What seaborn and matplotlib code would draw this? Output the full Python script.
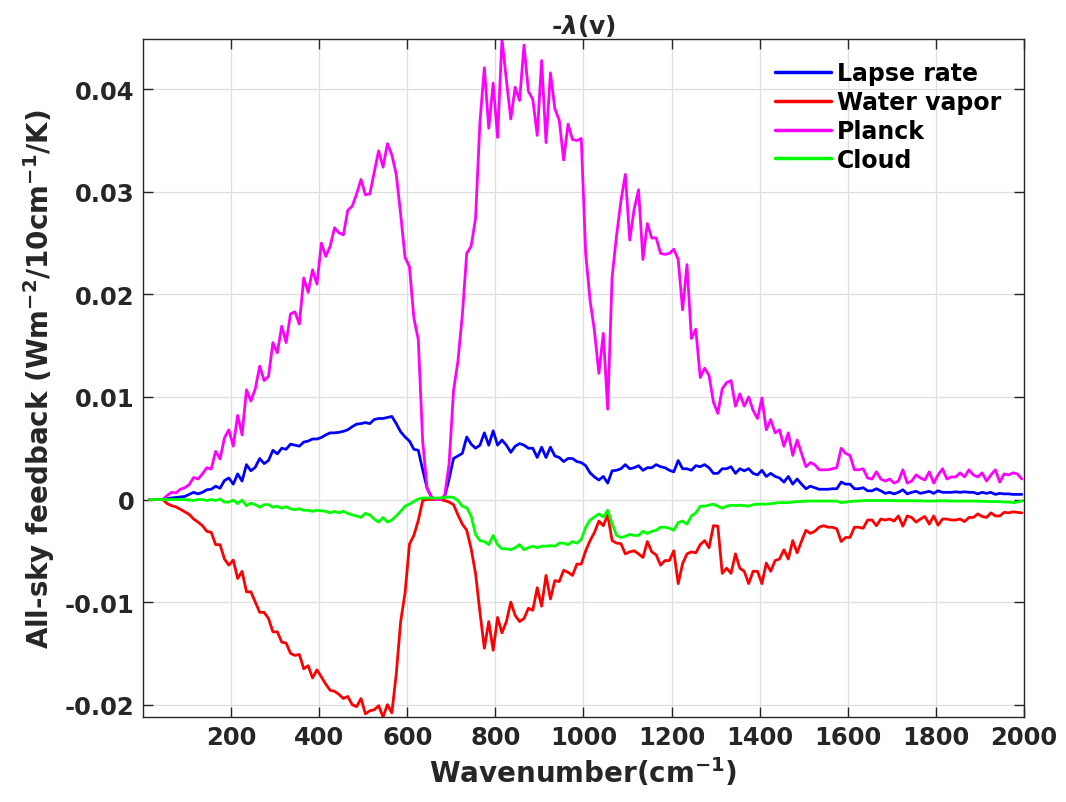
import numpy as np
import pandas as pd
import seaborn as sns
import matplotlib.pyplot as plt
from matplotlib.ticker import FuncFormatter

# Wavenumber bins (cm-1), centre of each 10 cm-1 band
wavenumber = np.arange(15, 2000, 10)

# Spectral feedback values, in units of 1e-3 W m-2 (10cm-1)-1 K-1
lapse_rate = [
    0, 0, 0, 0, 0.1, 0.15, 0.2, 0.25, 0.3, 0.5, 0.7, 0.55, 0.7, 0.95, 1.0, 1.3, 1.1,
    1.85, 2.1, 1.5, 2.5, 1.8, 3.4, 2.8, 3.15, 4.0, 3.5, 3.8, 4.8, 4.45, 5.0, 4.9, 5.4,
    5.3, 5.2, 5.6, 5.7, 5.9, 5.9, 6.05, 6.3, 6.5, 6.5, 6.55, 6.65, 6.8, 7.1, 7.35, 7.4,
    7.5, 7.4, 7.8, 7.9, 7.9, 8.0, 8.1, 7.4, 6.6, 6.1, 5.7, 4.9, 4.8, 2.9, 1.1, 0.25, 0, 0,
    0.3, 2.0, 4.0, 4.25, 4.5, 6.1, 5.4, 5.0, 5.3, 6.5, 5.3, 6.7, 5.3, 5.8, 5.3, 4.6, 5.2,
    5.45, 5.3, 5.0, 5.0, 4.1, 5.1, 4.1, 5.1, 4.25, 4.1, 3.7, 4.0, 4.0, 3.7, 3.6, 3.3,
    2.6, 2.2, 1.9, 2.25, 1.6, 2.8, 2.85, 3.0, 3.4, 3.0, 3.1, 3.3, 2.85, 3.1, 3.1, 3.4,
    3.2, 3.1, 2.85, 2.7, 3.8, 3.0, 3.0, 2.85, 3.3, 3.2, 3.4, 3.1, 2.55, 2.55, 3.0, 3.0, 3.2,
    2.55, 3.0, 2.8, 3.0, 2.55, 2.4, 2.85, 2.25, 2.55, 2.25, 2.1, 1.7, 2.25, 1.5, 2.0, 1.5,
    1.05, 1.3, 1.15, 1.0, 1.0, 1.0, 1.05, 1.05, 1.7, 1.5, 1.5, 1.05, 1.05, 1.15, 0.85, 0.85,
    1.05, 0.85,
    0.6, 0.7, 0.55, 0.7, 0.95, 0.55, 0.7, 0.8, 0.6, 0.7, 0.8, 0.6, 0.85, 0.7, 0.7, 0.7,
    0.75, 0.7, 0.75, 0.7, 0.7, 0.55, 0.7, 0.6, 0.7, 0.5, 0.6, 0.55, 0.55, 0.5, 0.5, 0.5,
]

water_vapor = [
    0, 0, 0, 0, -0.4, -0.6, -0.72, -0.95, -1.2, -1.45, -1.9, -2.2, -2.55, -3.1, -3.2, -4.4,
    -4.4, -5.8, -6.4, -5.9, -7.7, -7.0, -9.0, -9.0, -10.0, -11.0, -11.0, -11.6, -12.9,
    -12.9, -13.9, -14.0, -15.0,
    -15.2, -15.1, -16.5, -16.2, -17.4, -16.6, -17.3, -18.0, -18.6, -18.7, -19.0, -19.4,
    -19.2, -20.0, -20.2, -19.4, -20.9, -20.6, -20.5, -20.1, -21.2, -20.0, -20.8, -17.0,
    -11.9, -9.1, -4.35, -3.5, -2.05, -0.1, 0, 0, 0, 0,
    -0.1, -0.25, -0.5, -1.5, -2.4, -3.0, -4.8, -7.2, -11.0, -14.5, -11.9, -14.7, -11.5,
    -13.0, -11.9, -10.0, -11.3, -11.9, -11.6, -10.6, -10.8, -8.6, -10.4, -7.4, -9.7, -7.9,
    -8.0, -6.9, -7.1, -7.4, -6.3, -6.3, -5.0,
    -4.0, -3.2, -2.1, -2.55, -1.5, -4.0, -4.25, -4.3, -5.3, -5.1, -5.0, -5.3, -5.65, -4.1,
    -5.1, -5.4, -6.4, -5.95, -5.95, -5.0, -8.2, -6.25, -5.3, -5.1, -5.2, -4.4, -4.0, -4.7,
    -2.55, -2.6, -7.2, -6.7, -7.2,
    -5.3, -6.7, -7.0, -8.2, -7.0, -7.0, -8.2, -6.2, -7.0, -5.95, -5.8, -4.9, -5.8, -4.0,
    -5.2, -4.05, -3.0, -3.3, -3.1, -2.7, -2.55, -2.7, -2.7, -2.85, -4.1, -3.7, -3.7, -2.7,
    -2.7, -2.8, -2.0, -2.0, -2.55, -1.9,
    -2.0, -1.9, -2.1, -1.6, -2.6, -1.6, -1.75, -2.2, -1.9, -1.65, -2.4, -1.6, -2.5, -1.9,
    -1.9, -2.0, -2.0, -1.9, -2.15, -1.75, -1.75, -1.4, -1.65, -1.75, -1.3, -1.6, -1.6,
    -1.25, -1.3, -1.2, -1.25, -1.3,
]

planck = [
    0, 0, 0, 0, 0.4, 0.7, 0.65, 1.0, 1.15, 1.45, 2.15, 2.0, 2.5, 3.1, 2.97, 4.7, 3.95,
    6.0, 6.8, 5.2, 8.2, 6.3, 10.7, 9.6, 10.8, 13.0, 11.6, 12.0, 15.3, 14.3, 16.9, 15.3, 18.1,
    18.3, 17.1, 21.6, 20.2, 22.4, 21.0, 25.0, 23.7, 24.7, 26.5, 26.0, 25.8, 28.2, 28.6,
    29.8, 31.2, 29.7, 29.8, 31.9, 34.0, 32.4, 34.7, 33.6, 31.7, 27.8, 23.6, 22.7, 17.7,
    15.6, 5.7, 1.1, 0.2, 0, 0,
    0.4, 3.5, 10.6, 13.5, 18.0, 24.0, 24.7, 27.4, 36.8, 42.1, 36.2, 40.6, 35.3, 44.9,
    40.9, 37.1, 40.2, 38.9, 44.3, 39.8, 39.0, 35.5, 42.8, 34.8, 41.6, 38.1, 37.0, 33.1,
    36.6, 35.1, 35.0, 35.2, 24.0,
    19.4, 16.4, 12.3, 16.2, 8.8, 21.7, 25.7, 29.1, 31.7, 25.3, 28.3, 30.2, 23.4, 26.9,
    25.5, 25.5, 24.0, 23.9, 24.0, 24.4, 23.4, 18.5, 22.9, 15.7, 16.6, 11.9, 12.8, 12.1,
    9.5, 8.4, 10.8, 11.4, 11.6,
    9.1, 10.3, 9.1, 10.0, 8.7, 7.9, 9.9, 6.8, 7.8, 6.5, 6.8, 5.2, 6.5, 4.3, 5.8, 4.5, 3.2,
    3.6, 3.4, 2.9, 2.9, 2.9, 3.0, 3.1, 5.0, 4.5, 4.3, 2.9, 2.9, 3.0, 2.1, 2.0, 2.7, 2.0,
    1.8, 2.0, 1.6, 1.8, 2.9, 1.6, 1.8, 2.4, 2.1, 1.9, 2.7, 1.6, 2.4, 3.0, 2.0, 2.2, 2.2,
    2.6, 2.2, 2.9, 2.4, 2.2, 2.6, 1.8, 2.4, 2.9, 1.7, 2.5, 2.4, 2.6, 2.5, 2.0,
]

cloud = [
    0, 0, 0, 0, 0, 0, 0, 0, 0, -0.05, -0.1, 0, 0, -0.1, 0, -0.1, 0.05, -0.25, -0.25,
    -0.05, -0.4, -0.05, -0.6, -0.35, -0.5, -0.75, -0.5, -0.5, -0.75, -0.65, -0.85, -0.7, -0.9,
    -1.0, -0.9, -1.05, -1.05, -1.15, -1.05, -1.1, -1.15, -1.3, -1.15, -1.3, -1.15, -1.35,
    -1.5, -1.6, -1.75, -1.35, -1.5, -1.9, -2.2, -1.75, -2.2, -2.0, -1.6, -1.15, -0.65,
    -0.45, -0.2, 0.05, 0.15, 0.15, 0.15, 0.15, 0.15,
    0.2, 0.25, 0.2, -0.1, -0.65, -0.8, -1.6, -3.4, -4.0, -4.1, -4.4, -3.5, -4.4, -4.8,
    -4.8, -4.9, -4.7, -4.4, -4.9, -4.7, -4.55, -4.7, -4.55, -4.55, -4.5, -4.55, -4.25,
    -4.25, -4.4, -4.1, -4.25, -3.9, -2.7,
    -2.0, -1.7, -1.4, -1.7, -1.05, -2.35, -3.5, -3.7, -3.6, -3.4, -3.5, -3.5, -3.1, -3.3,
    -3.1, -3.0, -2.7, -2.7, -2.8, -3.0, -2.25, -2.1, -2.4, -1.6, -1.3, -0.65, -0.65,
    -0.55, -0.45, -0.65, -0.85, -0.65, -0.55,
    -0.6, -0.55, -0.6, -0.65, -0.5, -0.45, -0.45, -0.45, -0.4, -0.35, -0.3, -0.3, -0.3,
    -0.25, -0.2, -0.2, -0.15, -0.15, -0.15, -0.15, -0.15, -0.15, -0.15, -0.15, -0.3,
    -0.25, -0.2, -0.15, -0.15, -0.1, -0.1, -0.1, -0.1, -0.1,
    -0.1, -0.1, -0.12, -0.12, -0.12, -0.12, -0.12, -0.12, -0.12, -0.15, -0.15, -0.15,
    -0.12, -0.12, -0.12, -0.15, -0.15, -0.15, -0.15, -0.15, -0.15, -0.15, -0.18, -0.18,
    -0.2, -0.2, -0.2, -0.25, -0.25, -0.3, -0.25, -0.15,
]

labels = ["Lapse rate", "Water vapor", "Planck", "Cloud"]
colors = {"Lapse rate": "#0000ff", "Water vapor": "#ff0000",
          "Planck": "#ff00ff", "Cloud": "#00ff00"}

# Long-form table for seaborn
frames = []
for name, vals in zip(labels, [lapse_rate, water_vapor, planck, cloud]):
    frames.append(pd.DataFrame({"wavenumber": wavenumber,
                                "feedback": np.array(vals) * 1e-3,
                                "component": name}))
df = pd.concat(frames, ignore_index=True)

sns.set_style("ticks")
plt.rcParams["font.family"] = ["DejaVu Sans"]
plt.rcParams["font.weight"] = "bold"
plt.rcParams["mathtext.default"] = "bf"

fig = plt.figure(figsize=(10.66, 8.03), dpi=100)
ax = fig.add_axes([0.1341, 0.1059, 0.8265, 0.8443])

sns.lineplot(data=df, x="wavenumber", y="feedback", hue="component",
             hue_order=labels, palette=colors, estimator=None,
             linewidth=2.0, ax=ax)

# Axis limits like MATLAB "axis tight"
ax.set_xlim(0, 2000)
ax.set_ylim(df["feedback"].min(), df["feedback"].max())
ax.set_xticks(np.arange(200, 2001, 200))
ax.set_yticks([-0.02, -0.01, 0, 0.01, 0.02, 0.03, 0.04])
ax.yaxis.set_major_formatter(FuncFormatter(lambda v, p: "%g" % round(v, 3)))

# Box, inward ticks, light grid
ax.grid(True, color="#dedede", linewidth=0.9)
ax.tick_params(direction="in", length=7, width=1, top=True, right=True,
               labelsize=17.5, colors="#262626", pad=6)
for s in ax.spines.values():
    s.set_color("#262626")
    s.set_linewidth(1)
for lab in ax.get_xticklabels() + ax.get_yticklabels():
    lab.set_fontweight("bold")

ax.set_title(r"-$\mathit{\lambda}$(v)", fontsize=18, fontweight="bold", pad=4)
ax.set_xlabel("Wavenumber(cm$^{-1}$)", fontsize=20, fontweight="bold", labelpad=4)
ax.set_ylabel("All-sky feedback (Wm$^{-2}$/10cm$^{-1}$/K)", fontsize=20,
              fontweight="bold", labelpad=6)

leg = ax.legend(loc="upper right", frameon=False, fontsize=17,
                handlelength=2.4, handletextpad=0.25, labelspacing=0.2,
                borderaxespad=0.55)
for t in leg.get_texts():
    t.set_fontweight("bold")
    t.set_color("black")
for l in leg.get_lines():
    l.set_linewidth(2.5)

plt.savefig("out.png", dpi=100)
